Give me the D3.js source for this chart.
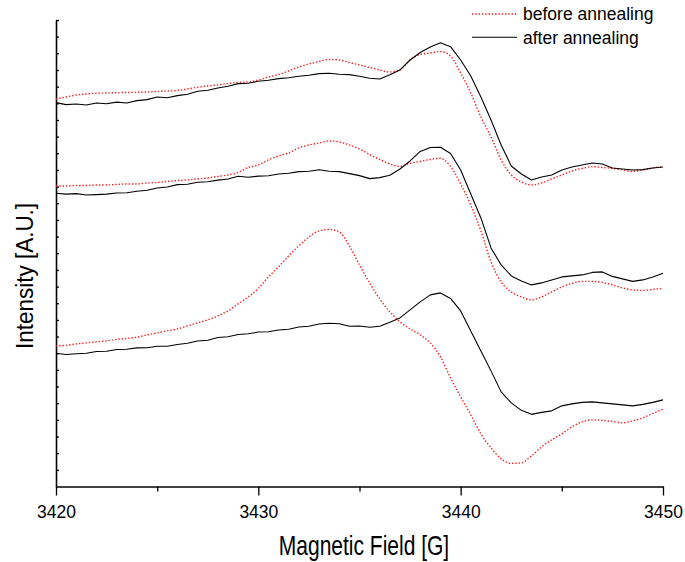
<!DOCTYPE html>
<html>
<head>
<meta charset="utf-8">
<script src="https://cdn.jsdelivr.net/npm/d3@7"></script>
<style>
  body { margin: 0; background: #fff; }
  text { font-family: "Liberation Sans", Arial, sans-serif; fill: #000; }
</style>
</head>
<body>
<svg id="canvas" width="685" height="562"></svg>
<script>
// magnetic field samples [G]
const field = [
    3420, 3420.5, 3421, 3421.5, 3422, 3422.5, 3423, 3423.5, 3424, 3424.5,
    3425, 3425.5, 3426, 3426.5, 3427, 3427.5, 3428, 3428.5, 3429, 3429.5,
    3430, 3430.5, 3431, 3431.5, 3432, 3432.5, 3433, 3433.5, 3434, 3434.5,
    3435, 3435.5, 3436, 3436.5, 3437, 3437.5, 3438, 3438.5, 3439, 3439.5,
    3440, 3440.5, 3441, 3441.5, 3442, 3442.5, 3443, 3443.5, 3444, 3444.5,
    3445, 3445.5, 3446, 3446.5, 3447, 3447.5, 3448, 3448.5, 3449, 3449.5,
    3450
];

// intensity [A.U.], three sample pairs (top, middle, bottom)
const topBefore = [
    23.26, 23.38, 23.50, 23.56, 23.60, 23.62, 23.64, 23.65, 23.66, 23.68,
    23.71, 23.74, 23.77, 23.86, 23.96, 24.04, 24.10, 24.19, 24.25, 24.28,
    24.40, 24.58, 24.73, 24.94, 25.18, 25.36, 25.51, 25.63, 25.60, 25.45,
    25.30, 25.15, 25.00, 24.88, 25.00, 25.60, 25.93, 26.02, 26.10, 25.84,
    24.82, 23.62, 22.18, 20.98, 19.60, 18.70, 18.28, 18.10, 18.22, 18.46,
    18.70, 18.94, 19.09, 19.20, 19.15, 19.09, 19.00, 18.91, 19.00, 19.12,
    19.20
];
const topAfter = [
    23.04, 22.92, 22.96, 22.90, 23.02, 22.97, 23.07, 23.02, 23.16, 23.22,
    23.38, 23.33, 23.46, 23.54, 23.72, 23.78, 23.92, 24.02, 24.18, 24.20,
    24.32, 24.38, 24.48, 24.53, 24.62, 24.68, 24.78, 24.80, 24.74, 24.72,
    24.62, 24.50, 24.46, 24.72, 25.00, 25.60, 26.05, 26.38, 26.64, 26.40,
    25.60, 24.64, 23.38, 22.00, 20.50, 19.24, 18.76, 18.40, 18.58, 18.70,
    19.00, 19.18, 19.30, 19.42, 19.36, 19.12, 19.06, 19.00, 19.02, 19.12,
    19.18
];
const midBefore = [
    18.04, 18.04, 18.07, 18.07, 18.10, 18.10, 18.13, 18.16, 18.16, 18.22,
    18.25, 18.31, 18.36, 18.40, 18.46, 18.52, 18.61, 18.70, 18.85, 19.15,
    19.30, 19.60, 19.84, 20.02, 20.32, 20.50, 20.62, 20.74, 20.68, 20.50,
    20.26, 19.93, 19.63, 19.36, 19.21, 19.40, 19.51, 19.63, 19.70, 19.21,
    18.16, 16.90, 15.34, 13.48, 12.28, 11.68, 11.38, 11.20, 11.38, 11.68,
    11.98, 12.19, 12.31, 12.31, 12.25, 12.10, 11.92, 11.80, 11.77, 11.83,
    11.90
];
const midAfter = [
    17.60, 17.55, 17.58, 17.50, 17.52, 17.55, 17.62, 17.63, 17.72, 17.78,
    17.92, 17.98, 18.12, 18.14, 18.26, 18.29, 18.39, 18.46, 18.62, 18.56,
    18.63, 18.65, 18.76, 18.80, 18.90, 18.92, 19.01, 18.92, 18.90, 18.78,
    18.66, 18.48, 18.54, 18.68, 19.06, 19.54, 20.11, 20.35, 20.36, 19.99,
    19.00, 17.56, 16.12, 14.32, 13.30, 12.64, 12.34, 12.10, 12.22, 12.40,
    12.58, 12.64, 12.70, 12.85, 12.88, 12.61, 12.46, 12.31, 12.40, 12.58,
    12.80
];
const lowBefore = [
    8.44, 8.47, 8.56, 8.62, 8.68, 8.74, 8.83, 8.89, 8.96, 9.10,
    9.22, 9.34, 9.46, 9.64, 9.82, 10.00, 10.24, 10.54, 10.96, 11.38,
    11.89, 12.58, 13.18, 13.84, 14.44, 14.98, 15.34, 15.43, 15.28, 14.44,
    13.30, 12.22, 11.26, 10.48, 9.88, 9.46, 9.10, 8.62, 7.78, 6.52,
    5.38, 4.30, 3.16, 2.32, 1.66, 1.39, 1.42, 1.84, 2.38, 2.80,
    3.16, 3.58, 3.88, 4.00, 3.97, 3.91, 3.82, 3.94, 4.12, 4.39,
    4.64
];
const lowAfter = [
    8.00, 7.92, 7.97, 8.00, 8.10, 8.12, 8.22, 8.24, 8.32, 8.33,
    8.42, 8.42, 8.52, 8.60, 8.73, 8.78, 8.94, 8.99, 9.12, 9.17,
    9.27, 9.29, 9.39, 9.44, 9.57, 9.62, 9.75, 9.80, 9.77, 9.62,
    9.63, 9.56, 9.62, 9.86, 10.12, 10.60, 11.08, 11.50, 11.62, 11.29,
    10.54, 9.34, 8.14, 6.94, 5.68, 5.02, 4.57, 4.33, 4.45, 4.54,
    4.84, 4.96, 5.05, 5.08, 5.02, 4.96, 4.90, 4.84, 4.93, 5.05,
    5.20
];

const majorTicks = [3420, 3430, 3440, 3450];
const minorTicks = [3425, 3435, 3445];
const yTicks = [1, 2, 3, 4, 5, 6, 7, 8, 9, 10, 11, 12, 13, 14,
    15, 16, 17, 18, 19, 20, 21, 22, 23, 24, 25, 26, 27, 28];
const legendLabels = ["before annealing", "after annealing"];

const svg = d3.select("#canvas");
const width = 685;
const height = 562;
const plotLeft = 56, plotRight = 663, plotTop = 20, plotBottom = 486.5;

const x = d3.scaleLinear().domain([3420, 3450]).range([plotLeft, plotRight]);
const y = d3.scaleLinear().domain([0, 28]).range([plotBottom, plotTop]);

const redStyle = { stroke: "#ff1a1a", width: 1.4, dash: "1.4,1.9", curve: d3.curveMonotoneX };
const blackStyle = { stroke: "#000", width: 1.1, dash: null, curve: d3.curveLinear };

svg.append("rect").attr("width", width).attr("height", height).attr("fill", "#fff");

drawAxes();
drawSeries(topBefore, redStyle);
drawSeries(topAfter, blackStyle);
drawSeries(midBefore, redStyle);
drawSeries(midAfter, blackStyle);
drawSeries(lowBefore, redStyle);
drawSeries(lowAfter, blackStyle);
drawLegend();

function drawSeries(values, style) {
    const line = d3.line()
        .x((d, i) => x(field[i]))
        .y(d => y(d))
        .curve(style.curve);

    svg.append("path")
        .datum(values)
        .attr("d", line)
        .attr("fill", "none")
        .attr("stroke", style.stroke)
        .attr("stroke-width", style.width)
        .attr("stroke-dasharray", style.dash)
        .attr("stroke-linejoin", "round");
}

function drawAxes() {
    const gx = svg.append("g")
        .attr("transform", `translate(0,${plotBottom})`)
        .call(d3.axisBottom(x).tickValues(majorTicks).tickSize(9).tickSizeOuter(0)
            .tickFormat(d3.format("d")));
    gx.selectAll("text")
        .attr("y", null).attr("dy", null)
        .attr("font-size", "17.5px")
        .attr("transform", "translate(0,31.5) scale(1,1.1)");

    svg.append("g")
        .attr("transform", `translate(0,${plotBottom})`)
        .call(d3.axisBottom(x).tickValues(minorTicks).tickSize(5).tickSizeOuter(0)
            .tickFormat(""))
        .select(".domain").remove();

    svg.append("g")
        .attr("transform", `translate(${plotLeft},0)`)
        .call(d3.axisLeft(y).tickValues(yTicks).tickSize(-3).tickSizeOuter(0)
            .tickFormat(""));

    svg.selectAll(".domain").attr("stroke-width", 1.6);
    svg.selectAll(".tick line").attr("stroke-width", 1.3);

    svg.append("text")
        .attr("text-anchor", "middle")
        .attr("font-size", "21px")
        .attr("transform", "translate(364,555) scale(1,1.28)")
        .text("Magnetic Field [G]");

    svg.append("text")
        .attr("text-anchor", "middle")
        .attr("font-size", "22.5px")
        .attr("transform", "translate(33,276) rotate(-90) scale(1,1.1)")
        .text("Intensity [A.U.]");
}

function drawLegend() {
    const styles = [redStyle, blackStyle];
    const g = svg.append("g");
    legendLabels.forEach((label, i) => {
        const ly = 14 + i * 23.3;
        g.append("line")
            .attr("x1", 472).attr("x2", 517)
            .attr("y1", ly).attr("y2", ly)
            .attr("stroke", styles[i].stroke)
            .attr("stroke-width", styles[i].width)
            .attr("stroke-dasharray", styles[i].dash);
        g.append("text")
            .attr("x", 523)
            .attr("y", ly + 6.3)
            .attr("font-size", "17.5px")
            .text(label);
    });
}
</script>
</body>
</html>
